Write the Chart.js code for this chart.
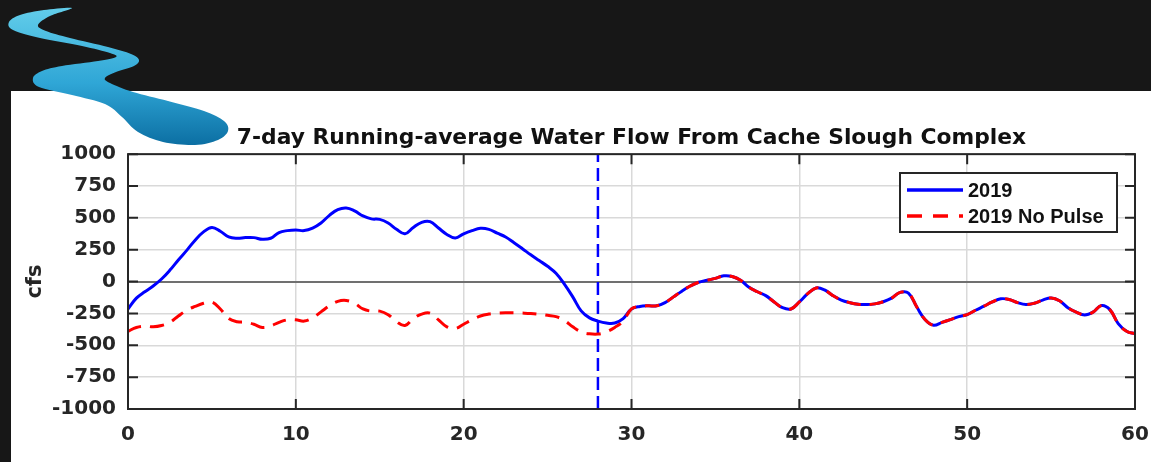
<!DOCTYPE html>
<html lang="en">
<head>
<meta charset="UTF-8">
<title>7-day Running-average Water Flow From Cache Slough Complex</title>
<script src="https://cdn.jsdelivr.net/npm/chart.js"></script>
<style>
  html, body { margin: 0; padding: 0; }
  body { width: 1151px; height: 462px; background: #171717; position: relative; overflow: hidden; }
  .panel { position: absolute; left: 11px; top: 91px; width: 1140px; height: 371px; background: #ffffff; }
  #flowChart { position: absolute; left: 0; top: 0; }
  #logo { position: absolute; left: 0; top: 0; }
</style>
</head>
<body>
<div class="panel"></div>
<canvas id="flowChart" width="1151" height="462"></canvas>
<svg id="logo" width="240" height="150">
  <defs>
    <linearGradient id="river" x1="0" y1="0" x2="0" y2="1">
      <stop offset="0" stop-color="#62cdea"/>
      <stop offset="0.55" stop-color="#2fa6d6"/>
      <stop offset="1" stop-color="#0c6fa3"/>
    </linearGradient>
  </defs>
  <path id="riverPath" fill="url(#river)"/>
</svg>

<script>
// days between readings (x = index * step)
const step = 0.5;

// 2019 flow, cfs, day 0 .. 60
const flow2019 = [
  -215, -130, -80, -35, 20, 90, 170, 245, 325, 390,
  425, 395, 350, 340, 345, 345, 332, 340, 385, 400,
  405, 400, 420, 460, 520, 565, 578, 555, 515, 492,
  488, 460, 410, 375, 425, 465, 470, 420, 370, 342,
  375, 400, 418, 410, 380, 350, 305, 258, 210, 165,
  120, 65, -20, -120, -230, -285, -310, -325, -325, -290,
  -215, -195, -190, -190, -165, -120, -75, -35, -5, 10,
  25, 45, 40, 10, -45, -80, -110, -160, -205, -215,
  -160, -95, -50, -65, -110, -145, -165, -178, -180, -175,
  -158, -130, -85, -90, -200, -300, -343, -320, -298, -275,
  -259, -225, -193, -160, -135, -140, -165, -180, -170, -145,
  -128, -150, -205, -240, -262, -240, -188, -220, -330, -390,
  -410
];

// 2019 without the pulse, day 0 .. 29.5 (identical to 2019 afterwards)
const noPulseToDay30 = [
  -390, -360, -350, -355, -345, -320, -270, -225, -195, -170,
  -160, -215, -290, -315, -320, -335, -360, -348, -320, -300,
  -300, -310, -285, -238, -190, -155, -148, -170, -215, -232,
  -232, -260, -315, -345, -290, -255, -248, -300, -355, -368,
  -335, -300, -270, -255, -248, -245, -245, -247, -250, -256,
  -265, -275, -305, -355, -395, -410, -412, -395, -360, -310
];
const flowNoPulse = noPulseToDay30.concat(flow2019.slice(noPulseToDay30.length));

const pulseDay = 28;
const seriesNames = ['2019', '2019 No Pulse'];

// logo outline
const riverOutline = [
  [72,8],[44,10],[20,15],[9,22],[13,30],[40,38],[82,46],[110,53],[116,57],[98,61],
  [62,66],[42,71],[33,78],[39,87],[72,95],[105,104],[122,117],[138,132],[163,142],
  [195,145],[218,140],[228,131],[224,121],[204,111],[168,101],[133,92],[110,83],
  [105,78],[116,72],[134,66],[139,60],[131,54],[108,47],[70,38],[46,31],[38,25],[50,16]
];

function smoothClosed(pts) {
  const n = pts.length;
  let d = 'M' + pts[0][0] + ',' + pts[0][1];
  for (let i = 0; i < n; i++) {
    const p0 = pts[(i - 1 + n) % n], p1 = pts[i], p2 = pts[(i + 1) % n], p3 = pts[(i + 2) % n];
    const c1 = [p1[0] + (p2[0] - p0[0]) / 6, p1[1] + (p2[1] - p0[1]) / 6];
    const c2 = [p2[0] - (p3[0] - p1[0]) / 6, p2[1] - (p3[1] - p1[1]) / 6];
    d += ' C' + c1.join(',') + ' ' + c2.join(',') + ' ' + p2.join(',');
  }
  return d + 'Z';
}
document.getElementById('riverPath').setAttribute('d', smoothClosed(riverOutline));

const toPoints = arr => arr.map((v, i) => ({ x: i * step, y: v }));

const axisColor = '#262626';

// MATLAB style box, inward ticks and legend
const framePlugin = {
  id: 'frame',
  afterDatasetsDraw(chart) {
    const { ctx, chartArea: a, scales } = chart;
    ctx.save();
    ctx.strokeStyle = axisColor;
    ctx.lineWidth = 2;
    ctx.strokeRect(a.left, a.top, a.right - a.left, a.bottom - a.top);
    const tl = 10;
    ctx.beginPath();
    scales.x.ticks.forEach(t => {
      const px = scales.x.getPixelForValue(t.value);
      ctx.moveTo(px, a.bottom); ctx.lineTo(px, a.bottom - tl);
      ctx.moveTo(px, a.top); ctx.lineTo(px, a.top + tl);
    });
    scales.y.ticks.forEach(t => {
      const py = scales.y.getPixelForValue(t.value);
      ctx.moveTo(a.left, py); ctx.lineTo(a.left + tl, py);
      ctx.moveTo(a.right, py); ctx.lineTo(a.right - tl, py);
    });
    ctx.stroke();

    // legend
    const lx = 900, ly = 173, lw = 217, lh = 59;
    ctx.fillStyle = '#ffffff';
    ctx.fillRect(lx, ly, lw, lh);
    ctx.strokeRect(lx, ly, lw, lh);
    const rows = [
      { y: 190, color: '#0000ff', dash: [] },
      { y: 216, color: '#ff0000', dash: [15, 11] }
    ];
    rows.forEach((r, i) => {
      ctx.beginPath();
      ctx.setLineDash(r.dash);
      ctx.strokeStyle = r.color;
      ctx.lineWidth = 3.5;
      ctx.moveTo(907, r.y); ctx.lineTo(963, r.y);
      ctx.stroke();
      ctx.setLineDash([]);
      ctx.fillStyle = '#111111';
      ctx.font = 'bold 20px "Liberation Sans", Arial, sans-serif';
      ctx.textBaseline = 'middle';
      ctx.textAlign = 'left';
      ctx.fillText(seriesNames[i], 968, r.y + 1);
    });
    ctx.restore();
  }
};

Chart.defaults.font.family = '"DejaVu Sans", sans-serif';

const ctx = document.getElementById('flowChart').getContext('2d');
const flowChart = new Chart(ctx, {
  type: 'line',
  data: {
    datasets: [
      {
        label: seriesNames[1],
        data: toPoints(flowNoPulse),
        borderColor: '#ff0000',
        borderWidth: 3,
        borderDash: [14, 9],
        pointRadius: 0,
        tension: 0.4,
        fill: false
      },
      {
        label: seriesNames[0],
        data: toPoints(flow2019),
        borderColor: '#0000ff',
        borderWidth: 3,
        pointRadius: 0,
        tension: 0.4,
        fill: false
      },
      {
        label: 'pulse',
        data: [{ x: pulseDay, y: -1000 }, { x: pulseDay, y: 1000 }],
        borderColor: '#0000ff',
        borderWidth: 2.5,
        borderDash: [13, 6],
        pointRadius: 0,
        fill: false
      }
    ]
  },
  options: {
    responsive: false,
    animation: false,
    devicePixelRatio: 1,
    layout: { padding: { left: 11, right: 16, top: 102, bottom: 0 } },
    plugins: {
      legend: { display: false },
      tooltip: { enabled: false },
      title: {
        display: true,
        fullSize: false,
        text: '7-day Running-average Water Flow From Cache Slough Complex',
        color: '#111111',
        font: { size: 21.8, weight: 'bold' },
        padding: { top: 23, bottom: 3 }
      }
    },
    scales: {
      x: {
        type: 'linear',
        min: 0,
        max: 60,
        ticks: { stepSize: 10, color: axisColor, font: { size: 20, weight: 'bold' }, padding: 14, maxRotation: 0 },
        grid: { color: '#d9d9d9', lineWidth: 1.5, drawTicks: false },
        border: { display: false },
        afterFit: s => { s.height = 53; s.paddingLeft = 0; s.paddingRight = 0; }
      },
      y: {
        min: -1000,
        max: 1000,
        ticks: {
          stepSize: 250,
          color: axisColor,
          font: { size: 20, weight: 'bold' },
          padding: 12,
          callback: v => String(v)
        },
        grid: {
          drawTicks: false,
          color: (context) => context.tick.value === 0 ? '#707070' : '#d9d9d9',
          lineWidth: (context) => context.tick.value === 0 ? 2 : 1.5
        },
        border: { display: false },
        title: { display: true, text: 'cfs', color: axisColor, font: { size: 21, weight: 'bold' }, padding: { top: 12, bottom: 0 } },
        afterFit: s => { s.width = 117; }
      }
    }
  },
  plugins: [framePlugin]
});
</script>
</body>
</html>
